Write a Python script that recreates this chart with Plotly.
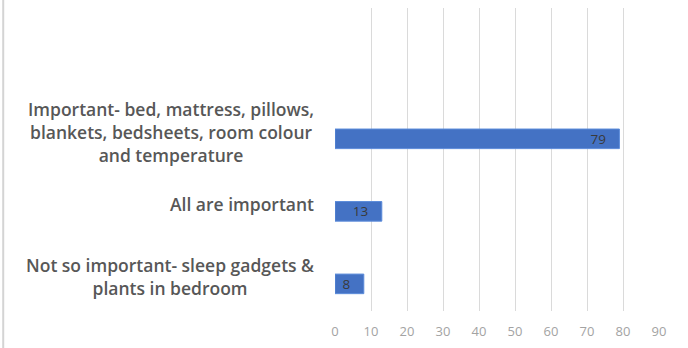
import plotly.graph_objects as go

# Survey responses: importance of bedroom environment for sleep
categories = [
    "Not so important- sleep gadgets &<br>plants in bedroom",
    "All are important",
    "Important- bed, mattress, pillows,<br>blankets, bedsheets, room colour<br>and temperature",
]
values = [8, 13, 79]
x_ticks = [0, 10, 20, 30, 40, 50, 60, 70, 80, 90]

fig = go.Figure()
fig.add_trace(go.Bar(
    x=values,
    y=categories,
    orientation="h",
    width=0.27,
    marker=dict(color="#4472C4", line=dict(color="#5B8BDA", width=1)),
    text=values,
    texttemplate="%{x}\u00a0\u00a0\u00a0",
    textposition="inside",
    insidetextanchor="end",
    textangle=0,
    constraintext="none",
    textfont=dict(family="Open Sans", size=13.5, color="#3a3a3a"),
    cliponaxis=False,
))

# category labels, centred line by line, to the left of the plot
for cat in categories:
    fig.add_annotation(
        x=0, xref="paper", y=cat, yref="y",
        text=cat, showarrow=False,
        xanchor="right", yanchor="middle", align="center",
        xshift=-19, yshift=7,
        font=dict(family="Open Sans", size=17.5, color="#575757", weight=600),
    )

# thin frame line on the left edge
fig.add_shape(type="line", xref="paper", yref="paper",
              x0=-1.024, x1=-1.024, y0=-0.2, y1=1.1,
              line=dict(color="#d4d4d4", width=2))

fig.update_layout(
    width=688, height=348,
    margin=dict(l=334.5, r=29, t=8, b=35),
    paper_bgcolor="white", plot_bgcolor="white",
    showlegend=False,
    bargap=0.7,
    xaxis=dict(
        range=[0, 90], tickvals=x_ticks,
        showgrid=True, gridcolor="#dadada", gridwidth=1,
        zeroline=False, showline=False,
        ticks="outside", ticklen=8, tickcolor="rgba(0,0,0,0)",
        tickfont=dict(family="Open Sans", size=13, color="#a3a3a3"),
    ),
    yaxis=dict(
        type="category", categoryorder="array", categoryarray=categories,
        range=[-0.374, 3.804],
        showticklabels=False, showgrid=False, zeroline=False, showline=False,
    ),
)

fig.write_html("out.html")
